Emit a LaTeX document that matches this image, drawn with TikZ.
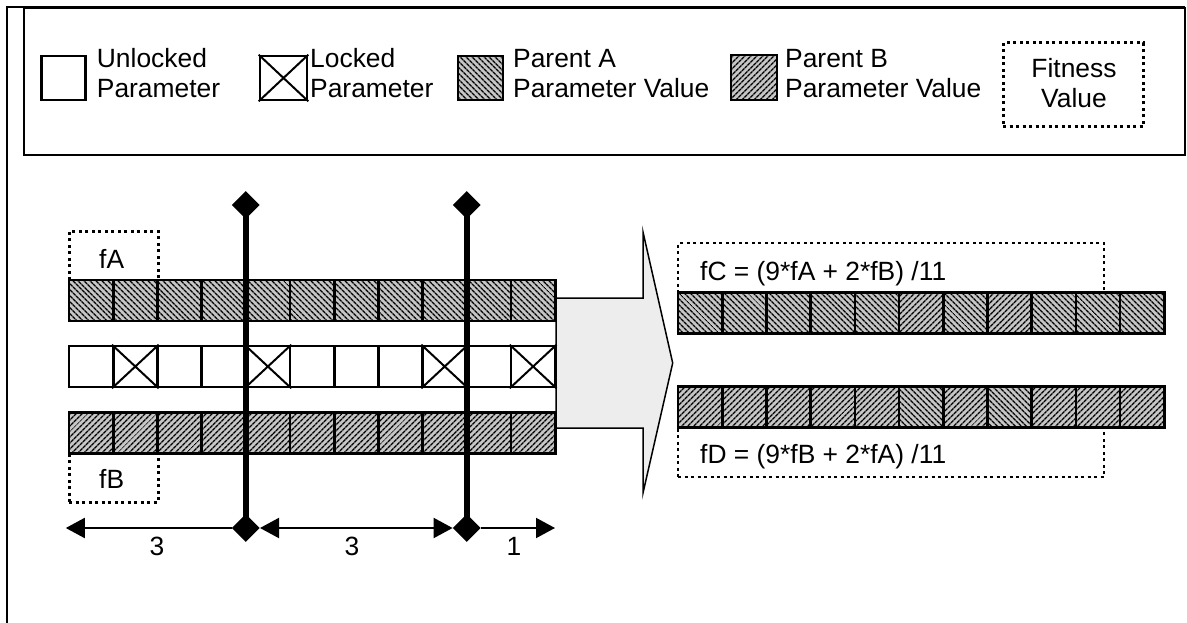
\documentclass[tikz,border=0pt]{standalone}
\usepackage{fontspec}
\setmainfont{Liberation Sans}
\usetikzlibrary{shapes.geometric,patterns.meta,arrows.meta}
\begin{document}
\begin{tikzpicture}[x=1pt,y=-1pt,
  txt/.style={font=\fontsize{26.4}{30}\selectfont, inner sep=0pt, anchor=base west},
  ctxt/.style={font=\fontsize{26.4}{30}\selectfont, inner sep=0pt, anchor=base},
  cellbase/.style={draw, line width=2.6pt, minimum width=44.2pt, minimum height=41pt, inner sep=0pt},
  pa/.style={cellbase, preaction={fill=gray!45}, pattern={Lines[angle=-45,distance=4pt,line width=1.5pt]}, pattern color=black},
  pb/.style={cellbase, preaction={fill=gray!45}, pattern={Lines[angle=45,distance=4pt,line width=1.5pt]}, pattern color=black},
  lk/.style={cellbase, fill=white},
  xline/.style={line width=2pt},
  fitbox/.style={draw, line width=3pt, dash pattern=on 3pt off 3.5pt, inner sep=0pt},
  dia/.style={diamond, aspect=1, fill=black, minimum width=28pt, minimum height=28pt, inner sep=0pt},
  cutline/.style={line width=5.5pt},
  dim/.style={line width=2pt, >={Triangle[length=19pt,width=20pt]}},
  frame/.style={line width=2pt}
]
\useasboundingbox (0,0) rectangle (1187,623);
% outer frame and legend
\draw[frame] (7,623) -- (7,7) -- (1185,7);
\node[draw, line width=2pt, minimum width=1161pt, minimum height=147pt, inner sep=0pt, anchor=north west] (legend) at (23,7) {};
% legend entries
\node[cellbase, minimum width=44pt, minimum height=44pt] (lgU) at (63.7,78) {};
\node[txt] (lgUt1) at (96.7,68) {Unlocked};
\node[txt] (lgUt2) at (96.7,97.5) {Parameter};
\node[cellbase, minimum width=47pt, minimum height=44pt] (lgL) at (283.5,78) {};
\draw[xline] (lgL.north west) -- (lgL.south east) (lgL.north east) -- (lgL.south west);
\node[txt] (lgLt1) at (310,68) {Locked};
\node[txt] (lgLt2) at (310,97.5) {Parameter};
\node[pa, minimum width=45pt, minimum height=44pt] (lgA) at (480.5,78) {};
\node[txt] (lgAt1) at (513,68) {Parent A};
\node[txt] (lgAt2) at (513,97.5) {Parameter Value};
\node[pb, minimum width=46pt, minimum height=45pt] (lgB) at (754,77.5) {};
\node[txt] (lgBt1) at (785,68) {Parent B};
\node[txt] (lgBt2) at (785,97.5) {Parameter Value};
\node[fitbox, minimum width=140pt, minimum height=84pt] (lgF) at (1073,85) {};
\node[ctxt] (lgFt1) at (1074,78) {Fitness};
\node[ctxt] (lgFt2) at (1074,108) {Value};
% block arrow
\draw[line width=1.5pt, fill=gray!14] (556,298) -- (643,298) -- (643,232) -- (672.7,363) -- (643,493) -- (643,428) -- (556,428) -- cycle;
% fitness boxes
\node[fitbox, minimum width=89pt, minimum height=49pt] (fAbox) at (113.5,255.5) {};
\node[fitbox, minimum width=89pt, minimum height=49pt] (fBbox) at (113.5,477.5) {};
\node[fitbox, line width=2.5pt, minimum width=426pt, minimum height=50pt] (fCbox) at (891,268) {};
\node[fitbox, line width=2.5pt, minimum width=426pt, minimum height=50pt] (fDbox) at (891,452) {};
% parents
\foreach \i in {1,...,11} {
  \node[pa] (a\i) at ({91.1+(\i-1)*44.2},300.5) {};
  \node[lk] (l\i) at ({91.1+(\i-1)*44.2},366.5) {};
  \node[pb] (b\i) at ({91.1+(\i-1)*44.2},433) {};
}
\foreach \i in {2,5,9,11} {
  \draw[xline] (l\i.north west) -- (l\i.south east) (l\i.north east) -- (l\i.south west);
}
% children
\foreach \i/\s/\t in {1/pa/pb,2/pa/pb,3/pa/pb,4/pa/pb,5/pa/pb,6/pb/pa,7/pa/pb,8/pb/pa,9/pa/pb,10/pa/pb,11/pa/pb} {
  \node[\s] (c\i) at ({700.1+(\i-1)*44.2},313) {};
  \node[\t] (d\i) at ({700.1+(\i-1)*44.2},407) {};
}
% texts
\node[txt] (fAt) at (99,268) {fA};
\node[txt] (fBt) at (99,488.5) {fB};
\node[txt] (fCt) at (700,280) {fC = (9*fA + 2*fB) /11};
\node[txt] (fDt) at (700,463) {fD = (9*fB + 2*fA) /11};
% cut points
\node[dia] (t1) at (245.8,205) {};
\node[dia] (u1) at (245.8,528) {};
\node[dia] (t2) at (466.8,205) {};
\node[dia] (u2) at (466.8,528) {};
\draw[cutline] (t1.center) -- (u1.center);
\draw[cutline] (t2.center) -- (u2.center);
% dimension arrows
\coordinate (lt) at (65.8,528);
\coordinate (rt) at (555,528);
\draw[dim, ->] (u1.west) -- (lt);
\draw[dim, <->] (u1.east) -- (u2.west);
\draw[dim, ->] (u2.east) -- (rt);
\node[ctxt] (n1) at (157,555) {3};
\node[ctxt] (n2) at (352,555) {3};
\node[ctxt] (n3) at (514,555) {1};
\end{tikzpicture}
\end{document}
